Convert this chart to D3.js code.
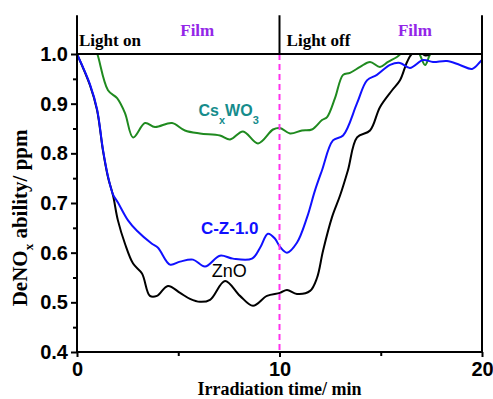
<!DOCTYPE html>
<head>
  <meta charset="utf-8">
  <script src="https://d3js.org/d3.v7.min.js"></script>
  <style>
  body { margin: 0; background: #fff; }
  .curve { fill: none; stroke-width: 2px; }
  .tick text { font-family: Arial, "Liberation Sans", sans-serif; font-weight: bold; font-size: 20px; }
  .serif { font-family: "Times New Roman", "Liberation Serif", serif; font-weight: bold; }
  .sans { font-family: Arial, "Liberation Sans", sans-serif; }
</style>
</head>
<body>
<svg width="493" height="399"></svg>

<script type="text/javascript">
// Data (time in min, DeNOx in ppm)
var znoTime = [0, 0.64, 0.99, 1.28, 1.53, 1.78, 2.02, 2.37, 2.77, 3.21, 3.6, 3.95, 4.49, 5.09, 5.58, 6.07, 6.57, 7.31, 8.05, 8.69, 9.38, 10.02, 10.37, 10.86, 11.51, 11.85, 12.15, 12.59, 12.99, 13.38, 13.83, 14.47, 14.96, 15.56, 15.95, 16.3, 16.54, 16.94, 17.2, 17.45, 17.8, 18.5, 19.4, 20];
var znoValue = [1.0, 0.937, 0.887, 0.806, 0.752, 0.715, 0.665, 0.618, 0.578, 0.558, 0.513, 0.513, 0.533, 0.519, 0.507, 0.501, 0.505, 0.543, 0.513, 0.493, 0.513, 0.519, 0.525, 0.517, 0.523, 0.549, 0.604, 0.671, 0.715, 0.766, 0.832, 0.846, 0.893, 0.927, 0.947, 0.984, 1.0, 1.003, 0.997, 1.0, 1.012, 1.015, 1.0, 1.015];

var czTime = [0, 0.64, 0.99, 1.28, 1.53, 1.78, 2.02, 2.52, 2.96, 3.7, 4.0, 4.59, 5.09, 5.73, 6.32, 7.06, 7.7, 8.64, 9.04, 9.43, 9.78, 10.02, 10.37, 10.86, 11.36, 11.75, 12.1, 12.64, 13.14, 13.83, 14.32, 14.81, 15.46, 15.95, 16.44, 17.09, 17.58, 18.27, 18.91, 19.51, 19.9, 20];
var czValue = [1.0, 0.939, 0.889, 0.808, 0.754, 0.717, 0.701, 0.665, 0.644, 0.618, 0.61, 0.576, 0.582, 0.586, 0.572, 0.594, 0.588, 0.588, 0.61, 0.638, 0.628, 0.612, 0.6, 0.62, 0.671, 0.725, 0.766, 0.826, 0.836, 0.901, 0.947, 0.958, 0.978, 0.982, 0.972, 0.988, 0.984, 0.986, 0.978, 0.97, 0.984, 0.988];

var csTime = [0, 0.9, 1.02, 1.53, 1.98, 2.37, 2.77, 3.36, 3.85, 4.69, 5.33, 6.07, 7.06, 7.56, 8.2, 8.94, 9.68, 10.02, 10.52, 11.11, 11.6, 12.1, 12.35, 12.74, 13.14, 13.48, 13.98, 14.47, 14.96, 15.36, 15.8, 16.1, 16.44, 16.84, 17.19, 17.45, 17.8, 18.5, 20];
var csValue = [1.01, 1.01, 0.998, 0.927, 0.911, 0.881, 0.832, 0.861, 0.853, 0.861, 0.846, 0.84, 0.836, 0.828, 0.844, 0.82, 0.848, 0.851, 0.84, 0.846, 0.848, 0.867, 0.873, 0.911, 0.958, 0.962, 0.974, 0.984, 0.974, 0.984, 0.994, 1.004, 1.01, 1.004, 0.978, 1.0, 1.012, 1.015, 1.015];

var xTicks = [0, 10, 20];
var yTicks = [0.4, 0.5, 0.6, 0.7, 0.8, 0.9, 1.0];
var lightSwitch = 10;   // light turned off here
var headerTop = 1.078;  // top of the header band above 1.0

var svg = d3.select("svg");

var x = d3.scaleLinear().domain([0, 20]).range([77, 482]);
var y = d3.scaleLinear().domain([0.4, 1.0]).range([352, 54]);

// clip the curves at 1.0
svg.append("clipPath").attr("id", "plot")
  .append("rect")
    .attr("x", x(0)).attr("y", y(1.0) + 1)
    .attr("width", x(20) - x(0)).attr("height", y(0.4) - y(1.0) - 1);

var line = d3.line()
    .x(function(d) { return x(d[0]); })
    .y(function(d) { return y(d[1]); })
    .curve(d3.curveCatmullRom.alpha(0.5));

var series = [
  { t: csTime, v: csValue, color: "#1f8a1f" },
  { t: znoTime, v: znoValue, color: "#000000" },
  { t: czTime, v: czValue, color: "#1010ff" }
];

series.forEach(function(s) {
  svg.append("path")
    .datum(d3.zip(s.t, s.v))
    .attr("class", "curve")
    .attr("clip-path", "url(#plot)")
    .attr("stroke", s.color)
    .attr("d", line);
});

// magenta dashed line where the light goes off
svg.append("line")
  .attr("x1", x(lightSwitch)).attr("x2", x(lightSwitch))
  .attr("y1", y(1.0)).attr("y2", y(0.4))
  .attr("stroke", "#ff33ee").attr("stroke-width", 2)
  .attr("stroke-dasharray", "6,4");

// axes
var yAxis = svg.append("g")
  .attr("transform", "translate(" + x(0) + ",0)")
  .call(d3.axisLeft(y).tickValues(yTicks).tickFormat(d3.format(".1f")).tickSize(6).tickPadding(3));
var yMinor = svg.append("g")
  .attr("transform", "translate(" + x(0) + ",0)")
  .call(d3.axisLeft(y).tickValues(d3.range(0.45, 1.0, 0.1)).tickSize(4).tickFormat(""));
var xAxis = svg.append("g")
  .attr("transform", "translate(0," + y(0.4) + ")")
  .call(d3.axisBottom(x).tickValues(xTicks).tickFormat(d3.format("d")).tickSize(5).tickPadding(5));
var xMinor = svg.append("g")
  .attr("transform", "translate(0," + y(0.4) + ")")
  .call(d3.axisBottom(x).tickValues([5, 15]).tickSize(4).tickFormat(""));

[yAxis, yMinor, xAxis, xMinor].forEach(function(g) {
  g.selectAll("path").remove();
  g.selectAll("line").attr("stroke", "#000").attr("stroke-width", 2);
});

// frame
var frame = svg.append("g").attr("stroke", "#000").attr("stroke-width", 2).attr("fill", "none");
frame.append("line").attr("x1", x(0)).attr("x2", x(0)).attr("y1", y(headerTop)).attr("y2", y(0.4) + 1);
frame.append("line").attr("x1", x(20)).attr("x2", x(20)).attr("y1", y(headerTop)).attr("y2", y(0.4) + 1);
frame.append("line").attr("x1", x(0) - 1).attr("x2", x(20) + 1).attr("y1", y(0.4)).attr("y2", y(0.4));
frame.append("line").attr("x1", x(0) - 1).attr("x2", x(20) + 1).attr("y1", y(1.0)).attr("y2", y(1.0));
frame.append("line").attr("x1", x(lightSwitch)).attr("x2", x(lightSwitch)).attr("y1", y(headerTop)).attr("y2", y(1.0));

// header labels
svg.append("text").attr("class", "serif").attr("x", x(0.1)).attr("y", y(1.0) - 8)
  .attr("font-size", 17).text("Light on");
svg.append("text").attr("class", "serif").attr("x", x(5.1)).attr("y", y(1.0) - 18)
  .attr("font-size", 17).attr("fill", "#9326e8").text("Film");
svg.append("text").attr("class", "serif").attr("x", x(10.35)).attr("y", y(1.0) - 8)
  .attr("font-size", 17).text("Light off");
svg.append("text").attr("class", "serif").attr("x", x(15.85)).attr("y", y(1.0) - 18)
  .attr("font-size", 17).attr("fill", "#9326e8").text("Film");

// series labels
var cs = svg.append("text").attr("class", "sans").attr("font-weight", "bold").attr("font-size", 16)
  .attr("fill", "#168c8c").attr("x", x(6.0)).attr("y", y(0.876));
cs.append("tspan").text("Cs");
cs.append("tspan").attr("font-size", 11).attr("dy", 8).text("x");
cs.append("tspan").attr("dy", -8).text("WO");
cs.append("tspan").attr("font-size", 11).attr("dy", 8).text("3");

svg.append("text").attr("class", "sans").attr("font-weight", "bold").attr("font-size", 17)
  .attr("fill", "#1010ff").attr("x", x(6.12)).attr("y", y(0.638)).text("C-Z-1.0");
svg.append("text").attr("class", "sans").attr("font-size", 18)
  .attr("fill", "#000").attr("x", x(6.65)).attr("y", y(0.551)).text("ZnO");

// axis titles
svg.append("text").attr("class", "serif").attr("font-size", 18).attr("text-anchor", "middle")
  .attr("x", x(10)).attr("y", 395).text("Irradiation time/ min");

var yl = svg.append("text").attr("class", "serif").attr("font-size", 21).attr("text-anchor", "middle")
  .attr("transform", "translate(27," + y(0.67) + ") rotate(-90)");
yl.append("tspan").text("DeNO");
yl.append("tspan").attr("font-size", 13).attr("dy", 6).text("x");
yl.append("tspan").attr("dy", -6).text(" ability/ ppm");
</script>

</body>
</html>
